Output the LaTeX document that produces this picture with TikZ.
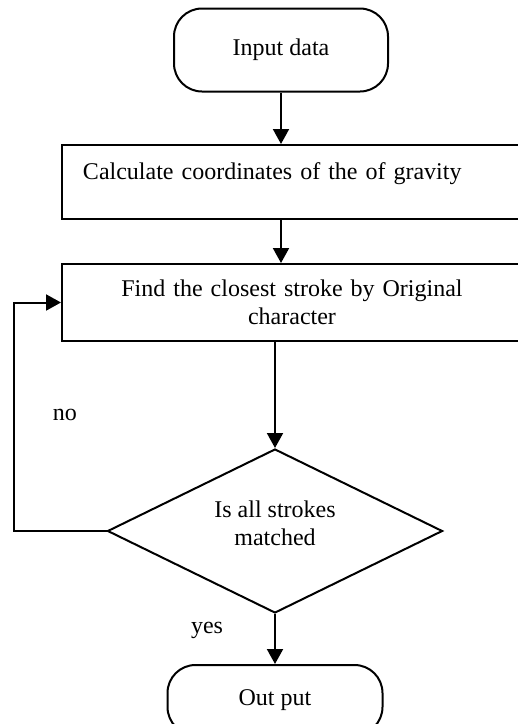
\documentclass[tikz,border=0pt]{standalone}
\usepackage{fontspec}
\setmainfont{Liberation Serif}
\usetikzlibrary{shapes.geometric,arrows.meta}

\begin{document}
\begin{tikzpicture}[x=0.5pt,y=-0.5pt,
    font=\fontsize{12}{14}\selectfont,
    term/.style={draw,line width=1pt,rectangle,rounded corners=14pt,
      minimum width=107pt,minimum height=41.5pt,inner sep=0pt},
    proc/.style={draw,line width=1pt,rectangle,inner ysep=0pt},
    decide/.style={draw,line width=1pt,diamond,aspect=2,minimum width=167.5pt,
      minimum height=82pt,inner sep=0pt,align=center},
    flow/.style={line width=1pt,-{Triangle[length=7.5pt,width=8pt]}}]
  \useasboundingbox (0,0) rectangle (518,724);
  \clip (0,0) rectangle (518,724);
  % boxes
  \node[term] (input) at (281,50) {Input data};
  \node[proc,minimum height=37pt,text width=209pt,align=left,inner xsep=10.5pt]
    (calc) at (292,182) {Calculate coordinates of the of gravity\\[-3pt]\mbox{}};
  \node[proc,minimum height=38.5pt,text width=200pt,align=center,inner xsep=15pt]
    (find) at (292,302.5) {Find the closest stroke by Original\\character};
  \node[decide] (check) at (275,531) {Is all strokes\\matched\\[-6pt]\mbox{}};
  \node[term,minimum width=107.5pt,minimum height=35pt] (output) at (275,700) {Out put};
  % labels
  \node (no) at (65,415) {no};
  \node (yes) at (207,630) {yes};
  % arrows
  \draw[flow] (input.south) -- (input.south |- calc.north);
  \draw[flow] (calc.south -| input) -- (find.north -| input);
  \draw[flow] (find.south -| check) -- (check.north);
  \draw[flow] (check.south) -- (output.north);
  \draw[flow] (check.west) -- ++(-93,0) |- (find.west);
\end{tikzpicture}
\end{document}
